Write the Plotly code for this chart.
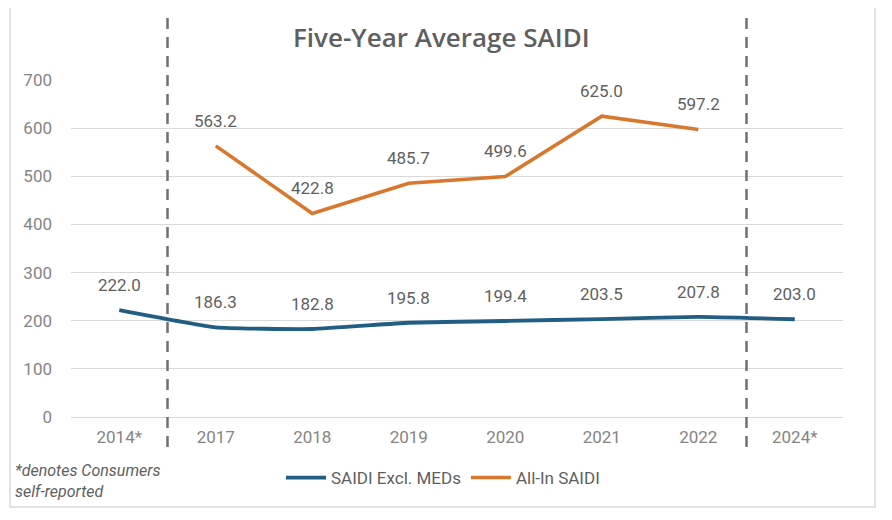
import plotly.graph_objects as go

categories = ["2014*", "2017", "2018", "2019", "2020", "2021", "2022", "2024*"]
saidi_excl_meds = [222.0, 186.3, 182.8, 195.8, 199.4, 203.5, 207.8, 203.0]
all_in_saidi = [None, 563.2, 422.8, 485.7, 499.6, 625.0, 597.2, None]
y_ticks = [0, 100, 200, 300, 400, 500, 600, 700]

# page has an 8px body margin, so the figure is 16px smaller than the window
OFF = 8
W, H = 892 - 2 * OFF, 520 - OFF
L, R, T, B = 71 - OFF, 41, 80 - OFF, 103
PW, PH = W - L - R, H - T - B

def px(x):
    return (x - OFF - L) / PW

def py(y):
    return (H - B - (y - OFF)) / PH

BLUE = "#215E84"
ORANGE = "#D8782F"
TXT = "#5F5F5F"
TICK = "#858585"
FONT = "Roboto"

xi = list(range(len(categories)))

fig = go.Figure()
fig.add_trace(go.Scatter(
    x=xi, y=saidi_excl_meds, name="SAIDI Excl. MEDs", mode="lines",
    line=dict(color=BLUE, width=3.8, shape="spline", smoothing=0.4),
))
fig.add_trace(go.Scatter(
    x=xi, y=all_in_saidi, name="All-In SAIDI", mode="lines",
    line=dict(color=ORANGE, width=3.6),
))

annotations = []
for series in (saidi_excl_meds, all_in_saidi):
    for i, v in zip(xi, series):
        if v is None:
            continue
        annotations.append(dict(
            x=i, y=v, xref="x", yref="y", text=f"{v:.1f}", showarrow=False,
            yshift=25, font=dict(family=FONT, size=17, color=TXT),
        ))

annotations.append(dict(
    x=px(441), y=py(37), xref="paper", yref="paper", text="Five-Year Average SAIDI",
    showarrow=False, xanchor="center", yanchor="middle",
    font=dict(family="Open Sans", size=26, color=TXT, weight=600),
))
annotations.append(dict(
    x=px(13), y=py(481), xref="paper", yref="paper",
    text="<i>*denotes Consumers<br>self-reported</i>",
    showarrow=False, xanchor="left", yanchor="middle", align="left",
    font=dict(family=FONT, size=16, color=TXT),
))

shapes = [
    dict(type="rect", xref="paper", yref="paper", x0=px(10), x1=px(875), y0=py(507), y1=py(5),
         line=dict(color="#D9D9D9", width=1.5), fillcolor="rgba(0,0,0,0)", layer="below"),
]
for xpos in (0.5, 6.5):
    shapes.append(dict(type="line", xref="x", yref="paper", x0=xpos, x1=xpos,
                       y0=py(447), y1=py(15),
                       line=dict(color="#707070", width=2.5, dash="11px,8px")))

fig.update_layout(
    width=W, height=H,
    margin=dict(l=L, r=R, t=T, b=B),
    paper_bgcolor="white", plot_bgcolor="white",
    font=dict(family=FONT, color=TXT),
    showlegend=True,
    legend=dict(orientation="h", x=px(443), xanchor="center",
                y=py(478), yanchor="middle", font=dict(family=FONT, size=17, color=TXT),
                itemwidth=40, tracegroupgap=0),
    annotations=annotations,
    shapes=shapes,
    xaxis=dict(range=[-0.5, len(categories) - 0.5], tickvals=xi, ticktext=categories,
               showgrid=False, showline=False, ticks="", zeroline=False,
               tickfont=dict(family=FONT, size=17, color=TICK), ticklabelstandoff=8),
    yaxis=dict(range=[0, 700], tickvals=y_ticks, showgrid=True, gridcolor="#D9D9D9",
               gridwidth=1, zeroline=True, zerolinecolor="#D9D9D9", zerolinewidth=1,
               showline=False, ticks="",
               tickfont=dict(family=FONT, size=17, color=TICK), ticklabelstandoff=18),
)

fig.write_html("out.html")
